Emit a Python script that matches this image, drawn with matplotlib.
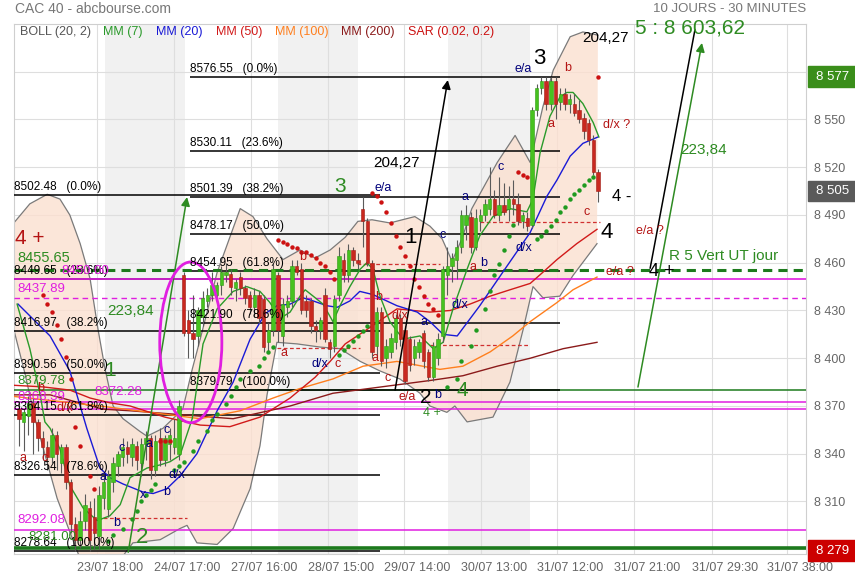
import matplotlib
matplotlib.use("Agg")
import matplotlib.pyplot as plt
import matplotlib.transforms as mtransforms
from matplotlib.patches import Ellipse, Rectangle
import numpy as np

plt.rcParams['font.family'] = ['Liberation Sans', 'DejaVu Sans']

# ---- 30-minute candles (one per bar, bar index = position) ----
c_open = [8368, 8360, 8364, 8372, 8360, 8350, 8344, 8338, 8352, 8334, 8344, 8322, 8296, 8286, 8298, 8306, 8300, 8288, 8312,
          8305, 8322, 8332, 8338, 8344, 8338, 8345, 8334, 8346, 8350, 8330, 8350, 8336, 8346, 8344, 8340,
          8452, 8424, 8416, 8414, 8426, 8436, 8440, 8440, 8446, 8452, 8453, 8444, 8451, 8444, 8440, 8432, 8440, 8437, 8410,
          8418, 8452, 8414, 8432, 8436, 8458, 8456, 8436, 8436, 8420, 8418, 8440, 8410, 8408, 8440, 8462, 8452, 8468, 8462,
          8494, 8486, 8460, 8408, 8429, 8400, 8404, 8410, 8425, 8418, 8412, 8400, 8404, 8416, 8404, 8388, 8400, 8414,
          8452, 8458, 8462, 8470, 8484, 8489, 8470, 8486, 8490, 8494, 8500, 8490, 8496, 8494, 8500, 8497, 8486, 8488,
          8484, 8556, 8570, 8574, 8560, 8574, 8561, 8566, 8560, 8560, 8556, 8551, 8548, 8537, 8517]
c_high = [8373, 8368, 8376, 8375, 8362, 8354, 8348, 8356, 8354, 8346, 8346, 8324, 8300, 8304, 8315, 8310, 8312, 8320, 8326,
          8330, 8338, 8342, 8350, 8348, 8350, 8348, 8350, 8354, 8352, 8352, 8356, 8352, 8356, 8362, 8374,
          8454, 8430, 8440, 8432, 8442, 8444, 8454, 8448, 8458, 8460, 8456, 8450, 8454, 8446, 8442, 8444, 8442, 8440, 8422,
          8460, 8454, 8438, 8440, 8462, 8462, 8460, 8440, 8438, 8424, 8426, 8444, 8412, 8440, 8470, 8466, 8472, 8470, 8466,
          8501, 8488, 8462, 8432, 8432, 8412, 8416, 8428, 8428, 8420, 8414, 8412, 8412, 8418, 8406, 8410, 8416, 8458,
          8470, 8466, 8474, 8493, 8496, 8492, 8494, 8494, 8500, 8520, 8506, 8514, 8510, 8508, 8512, 8504, 8492, 8492,
          8558, 8572, 8577, 8577, 8577, 8577, 8570, 8570, 8566, 8566, 8562, 8554, 8550, 8540, 8519]
c_low = [8345, 8342, 8352, 8340, 8342, 8336, 8330, 8334, 8330, 8328, 8318, 8290, 8279, 8281, 8292, 8279, 8280, 8280, 8305,
         8300, 8316, 8326, 8332, 8334, 8332, 8330, 8326, 8336, 8324, 8326, 8332, 8332, 8336, 8340, 8336,
         8414, 8400, 8400, 8408, 8420, 8432, 8436, 8436, 8440, 8448, 8440, 8436, 8440, 8434, 8428, 8426, 8422, 8404, 8404,
         8414, 8410, 8408, 8426, 8432, 8452, 8428, 8426, 8416, 8410, 8412, 8410, 8400, 8404, 8436, 8448, 8448, 8458, 8456,
         8470, 8458, 8400, 8400, 8395, 8394, 8400, 8406, 8408, 8384, 8392, 8396, 8400, 8394, 8386, 8386, 8396, 8410,
         8440, 8448, 8450, 8466, 8474, 8466, 8468, 8480, 8486, 8490, 8488, 8486, 8490, 8486, 8490, 8484, 8482, 8480,
         8482, 8552, 8566, 8556, 8556, 8550, 8556, 8556, 8554, 8552, 8548, 8538, 8534, 8515, 8498]
c_close = [8362, 8366, 8372, 8360, 8350, 8344, 8338, 8352, 8340, 8344, 8322, 8296, 8286, 8298, 8308, 8286, 8290, 8314, 8322,
           8326, 8334, 8340, 8344, 8340, 8346, 8336, 8346, 8350, 8330, 8348, 8336, 8350, 8352, 8350, 8370,
           8416, 8416, 8412, 8430, 8438, 8440, 8446, 8446, 8454, 8454, 8445, 8448, 8444, 8438, 8432, 8440, 8425, 8407, 8418,
           8456, 8418, 8434, 8436, 8458, 8454, 8430, 8430, 8420, 8418, 8424, 8412, 8406, 8437, 8464, 8452, 8468, 8462, 8460,
           8486, 8460, 8404, 8429, 8398, 8408, 8413, 8425, 8412, 8386, 8396, 8408, 8410, 8398, 8388, 8408, 8412, 8456,
           8458, 8463, 8470, 8490, 8490, 8470, 8488, 8490, 8497, 8500, 8490, 8496, 8492, 8500, 8497, 8486, 8490, 8483,
           8556, 8570, 8574, 8560, 8574, 8560, 8566, 8560, 8563, 8554, 8550, 8543, 8537, 8517, 8505]

# ---- indicators: (bar position, price) ----
bb_up_bar = [-1.1, 2.3, 6.0, 8.7, 10.8, 13.0, 15.1, 16.8, 18.3, 20.0, 22.1, 25.7, 27.2, 30.6, 32.7, 34.8, 36.8, 38.5,
             42.1, 47.0, 49.7, 52.7, 56.1, 59.7, 62.9, 66.1, 69.3, 72.0, 75.0, 78.8, 84.1, 87.3, 89.9, 92.0, 94.1,
             96.2, 99.0, 101.6, 105.4, 108.6, 111.3, 113.5, 117.1, 119.8, 123.0]
bb_up_val = [8485, 8497, 8503, 8500, 8490, 8472, 8450, 8418, 8393, 8370, 8362, 8354, 8351, 8356, 8362, 8368, 8393, 8412,
             8454, 8494, 8489, 8475, 8462, 8468, 8463, 8468, 8476, 8486, 8487, 8485, 8489, 8483, 8475, 8461, 8475,
             8494, 8509, 8523, 8540, 8523, 8558, 8581, 8602, 8605, 8603]
bb_lo_bar = [-1.1, 1.3, 3.4, 8.1, 11.3, 13.0, 19.3, 24.2, 30.0, 34.2, 35.7, 37.8, 42.1, 45.5, 49.1, 51.2, 52.7, 54.8,
             59.1, 64.0, 68.2, 72.5, 76.7, 80.9, 85.2, 87.3, 90.9, 92.6, 95.2, 100.7, 104.3, 107.1, 109.2, 111.3,
             114.9, 117.7, 122.8]
bb_lo_val = [8418, 8390, 8362, 8312, 8287, 8274, 8265, 8284, 8286, 8293, 8295, 8284, 8283, 8293, 8318, 8345, 8377, 8410,
             8409, 8407, 8406, 8398, 8392, 8387, 8378, 8370, 8366, 8370, 8360, 8363, 8385, 8418, 8445, 8438,
             8439, 8452, 8472]

mm7_bar = [-0.4, 2.3, 4.5, 5.5, 6.6, 8.7, 10.8, 13.6, 16.6, 19.3, 21.5, 23.6, 27.2, 30.0, 32.1, 34.2, 36.8, 39.1, 42.1,
           45.5, 48.4, 51.2, 53.3, 55.5, 57.6, 59.7, 60.8, 62.5, 64.6, 66.7, 68.2, 70.3, 72.5, 73.9, 75.2, 76.7, 78.8,
           81.6, 85.2, 88.0, 90.1, 92.2, 95.2, 97.9, 100.7, 104.3, 107.9, 109.2, 110.7, 112.8, 114.9, 116.4, 117.7,
           119.8, 122.0, 123.2]
mm7_val = [8434, 8406, 8377, 8360, 8356, 8343, 8320, 8306, 8298, 8301, 8308, 8325, 8331, 8333, 8335, 8339, 8362, 8409, 8431,
           8442, 8445, 8442, 8435, 8425, 8429, 8439, 8443, 8439, 8434, 8423, 8433, 8445, 8456, 8460, 8456, 8439, 8423,
           8412, 8414, 8406, 8410, 8431, 8456, 8477, 8489, 8494, 8492, 8500, 8529, 8552, 8564, 8567, 8567,
           8560, 8548, 8539]
mm20_bar = [-0.2, 6.6, 10.8, 14.4, 17.2, 19.3, 22.1, 26.3, 28.5, 31.4, 34.2, 37.8, 42.1, 45.5, 49.1, 52.3, 54.8, 57.6,
            60.3, 62.5, 65.4, 67.6, 70.3, 72.4, 75.2, 80.3, 84.6, 87.3, 90.1, 93.1, 97.9, 103.7, 108.6, 112.2, 114.3,
            117.1, 119.8, 123.0]
mm20_val = [8434, 8414, 8392, 8356, 8331, 8325, 8321, 8316, 8315, 8318, 8326, 8340, 8367, 8385, 8412, 8428, 8433, 8434,
            8438, 8436, 8433, 8432, 8436, 8442, 8440, 8433, 8429, 8423, 8415, 8414, 8433, 8458, 8479, 8502, 8512,
            8527, 8535, 8539]
mm50_bar = [-1.1, 5.1, 10.8, 15.1, 19.3, 23.6, 31.0, 38.5, 44.8, 51.2, 57.6, 62.9, 66.1, 69.3, 73.9, 80.3, 87.3, 91.6,
            95.8, 100.1, 104.3, 108.6, 111.3, 114.3, 118.5, 122.8]
mm50_val = [8383, 8382, 8380, 8375, 8372, 8370, 8363, 8358, 8357, 8363, 8375, 8388, 8398, 8409, 8418, 8431, 8429, 8430,
            8434, 8439, 8443, 8447, 8454, 8462, 8472, 8481]
mm100_bar = [-1.1, 17.2, 38.5, 47.0, 54.0, 59.7, 66.7, 73.1, 80.3, 89.4, 94.3, 100.1, 104.9, 108.6, 114.3, 117.7, 122.8]
mm100_val = [8376, 8370, 8362, 8367, 8375, 8381, 8387, 8395, 8398, 8393, 8395, 8404, 8414, 8423, 8435, 8443, 8451]
mm200_bar = [-1.1, 6.6, 17.8, 23.6, 45.5, 57.6, 66.7, 87.3, 94.3, 101.6, 108.6, 115.6, 122.8]
mm200_val = [8377, 8377, 8368, 8367, 8362, 8370, 8378, 8386, 8389, 8395, 8400, 8406, 8410]

sar_red_bar = [5, 6, 7, 8, 9, 10, 11, 12, 13, 15, 16, 30, 31, 32,
               55, 56, 57, 58, 59, 60, 61, 62, 63, 64, 65, 66, 67,
               75, 76, 77, 78, 79, 80, 81, 82, 83, 84, 85, 86, 87, 88, 89, 106, 107, 108, 123]
sar_red_val = [8440, 8434, 8429, 8421, 8412, 8401, 8387, 8357, 8345, 8326, 8318, 8348, 8348, 8348,
               8474, 8473, 8472, 8470, 8469, 8467, 8467, 8465, 8463, 8460, 8458, 8454, 8450,
               8504, 8502, 8498, 8492, 8485, 8477, 8470, 8464, 8458, 8450, 8445, 8439, 8434, 8431, 8427,
               8517, 8515, 8514, 8577]
sar_green_bar = [19, 20, 22, 24, 25, 26, 27, 28, 29,
                 33, 34, 35, 37, 38, 40, 41, 42, 44, 45, 46, 47, 49, 51, 52, 53, 54,
                 68, 69, 70, 71, 72, 73, 74,
                 91, 93, 94, 96, 97, 99, 100, 101, 102, 103, 104, 105,
                 110, 111, 112, 113, 114, 115, 116, 117, 118, 119, 120, 121, 122]
sar_green_val = [8285, 8289, 8293, 8299, 8304, 8310, 8314, 8317, 8321,
                 8330, 8332, 8335, 8342, 8348, 8354, 8361, 8365, 8371, 8376, 8382, 8387, 8392, 8395, 8400, 8404, 8407,
                 8402, 8405, 8408, 8411, 8414, 8417, 8420,
                 8382, 8387, 8398, 8408, 8418, 8431, 8442, 8452, 8459, 8468, 8477, 8484,
                 8475, 8477, 8480, 8483, 8487, 8492, 8495, 8500, 8503, 8506, 8509, 8512, 8514]

# ---- drawn levels ----
fib_pcts = ['0.0%', '23.6%', '38.2%', '50.0%', '61.8%', '78.6%', '100.0%']
fib_left = [8502.48, 8449.65, 8416.97, 8390.56, 8364.15, 8326.54, 8278.64]
fib_mid = [8576.55, 8530.11, 8501.39, 8478.17, 8454.95, 8421.90, 8379.79]
last_prices = [8577, 8505, 8279]

y_ticks = [8280, 8310, 8340, 8370, 8400, 8430, 8460, 8490, 8520, 8550, 8580]
x_grid = [16.6, 32.9, 49.3, 65.6, 81.8, 98.1, 114.3, 130.7, 147.2, 163.2]
x_labels = ['23/07 18:00', '24/07 17:00', '27/07 16:00', '28/07 15:00', '29/07 14:00',
            '30/07 13:00', '31/07 12:00', '31/07 21:00', '31/07 29:30', '31/07 38:00']
day_bands = [(18.3, 35.3), (55.0, 72.0), (91.1, 108.6)]

GREEN = '#2e8b22'
MAG = '#e01ee0'
DRED = '#b41414'
NAVY = '#00007a'

fig = plt.figure(figsize=(8.55, 5.8), dpi=100)
ax = fig.add_axes([14 / 855, 26 / 580, 792 / 855, 530 / 580])
XMIN, XMAX = -1.06, 167.2
ax.set_xlim(XMIN, XMAX)
ax.set_ylim(8277, 8610)

for a, b in day_bands:
    ax.axvspan(a, b, color='#f1f1f1', lw=0, zorder=0)
for t in y_ticks:
    ax.axhline(t, color='#dedede', lw=0.8, zorder=0.5)
for g in x_grid:
    ax.axvline(g, color='#dedede', lw=0.8, zorder=0.5)

# Bollinger envelope
ax.fill(np.r_[bb_up_bar, bb_lo_bar[::-1]], np.r_[bb_up_val, bb_lo_val[::-1]],
        color='#fbe0d0', alpha=0.8, lw=0, zorder=1)
ax.plot(bb_up_bar, bb_up_val, color='#7a7a7a', lw=0.9, zorder=2)
ax.plot(bb_lo_bar, bb_lo_val, color='#7a7a7a', lw=0.9, zorder=2)

# level lines
ax.hlines(fib_left, XMIN, 76.7, color='black', lw=1.1, zorder=3)
ax.hlines(fib_mid, 36.3, 114.9, color='black', lw=1.1, zorder=3)
for v, p in zip(fib_left, fib_pcts):
    ax.annotate(f'{v:.2f}   ({p})', (XMIN + 0.1, v), xytext=(0, 1.5), textcoords='offset points',
                fontsize=8.5, va='bottom', ha='left', zorder=9)
for v, p in zip(fib_mid, fib_pcts):
    ax.annotate(f'{v:.2f}   ({p})', (36.3, v), xytext=(0, 1.5), textcoords='offset points',
                fontsize=8.5, va='bottom', ha='left', zorder=9)

ax.axhline(8455.65, color='#1d7a1d', lw=2.2, ls=(0, (3, 2)), zorder=3)
ax.axhline(8450.00, color=MAG, lw=1.2, zorder=3)
ax.axhline(8437.89, color=MAG, lw=1.0, ls=(0, (4, 3)), zorder=3)
ax.axhline(8379.78, color='#1d7a1d', lw=1.1, zorder=2.9)
ax.axhline(8372.28, color=MAG, lw=1.1, zorder=3)
ax.axhline(8368.39, color=MAG, lw=1.1, zorder=3)
ax.axhline(8292.08, color=MAG, lw=1.1, zorder=3)
ax.axhline(8281.00, color='#1d7a1d', lw=2.6, zorder=3)

for v, a, b in [(8485.5, 98.0, 123.5), (8459.2, 71.8, 89.4), (8406.4, 54.8, 72.4),
                (8408.3, 87.3, 108.6), (8299.5, 16.6, 35.7)]:
    ax.hlines(v, a, b, color='#d03030', lw=0.9, ls=(0, (3, 2)), zorder=3)

# moving averages
ax.plot(mm200_bar, mm200_val, color='#8b1a1a', lw=1.0, zorder=4)
ax.plot(mm100_bar, mm100_val, color='#ff7f1e', lw=1.0, zorder=4)
ax.plot(mm50_bar, mm50_val, color='#d11a1a', lw=1.0, zorder=4)
ax.plot(mm20_bar, mm20_val, color='#1a1ad6', lw=1.0, zorder=4)
ax.plot(mm7_bar, mm7_val, color='#2a9a2a', lw=1.0, zorder=4)

# candles
o, h, l, c = map(np.array, (c_open, c_high, c_low, c_close))
idx = np.arange(len(o))
up = c >= o
ax.vlines(idx, l, h, color='#5a5a5a', lw=0.8, zorder=5)
ax.bar(idx[up], np.maximum((c - o)[up], 0.6), bottom=o[up], width=0.72,
       color='#46c21f', edgecolor='#2f9a14', lw=0.4, zorder=6)
ax.bar(idx[~up], np.maximum((o - c)[~up], 0.6), bottom=c[~up], width=0.72,
       color='#c9281f', edgecolor='#a01c15', lw=0.4, zorder=6)

# parabolic SAR
ax.plot(sar_red_bar, sar_red_val, 'o', color='#cc1111', ms=3.2, mec='none', zorder=6.5)
ax.plot(sar_green_bar, sar_green_val, 'o', color='#1f9a1f', ms=3.2, mec='none', zorder=6.5)

# arrows and trend lines
ax.annotate('', xy=(35.7, 8501.3), xytext=(23.2, 8278.1),
            arrowprops=dict(arrowstyle='-|>', color=GREEN, lw=1.1, mutation_scale=13, shrinkA=0, shrinkB=0), zorder=8)
ax.annotate('', xy=(91.1, 8574.8), xytext=(79.9, 8380.0),
            arrowprops=dict(arrowstyle='-|>', color='black', lw=1.1, mutation_scale=13, shrinkA=0, shrinkB=0), zorder=8)
ax.annotate('', xy=(145.1, 8598.1), xytext=(131.5, 8381.9),
            arrowprops=dict(arrowstyle='-|>', color=GREEN, lw=1.1, mutation_scale=13, shrinkA=0, shrinkB=0), zorder=8)
ax.plot([134.1, 143.6], [8456.7, 8606.3], color='black', lw=1.1, zorder=8)

ax.add_patch(Ellipse((36.5, 8410), width=13.2, height=101, fill=False, edgecolor=MAG, lw=2.0, zorder=8))

# text annotations
notes = [
    (2.3, 8475.5, '4 +', DRED, 15, 'center'),
    (-0.4, 8463.0, '8455.65', GREEN, 10.5, 'left'),
    (-0.4, 8443.5, '8437.89', MAG, 9.5, 'left'),
    (-0.4, 8385.6, '8379.78', GREEN, 9.5, 'left'),
    (-0.4, 8375.6, '8368.39', MAG, 9.5, 'left'),
    (16.1, 8378.7, '8372.28', MAG, 9.5, 'left'),
    (-0.4, 8298.3, '8292.08', MAG, 9.5, 'left'),
    (1.9, 8287.6, '8281.00', GREEN, 9.5, 'left'),
    (9.1, 8454.8, '8450.00', MAG, 9.5, 'left'),
    (23.6, 8429.6, '223,84', GREEN, 11, 'center'),
    (19.3, 8392.5, '1', GREEN, 15, 'center'),
    (26.1, 8287.6, '2', GREEN, 16, 'center'),
    (68.2, 8508.2, '3', GREEN, 15, 'center'),
    (80.3, 8522.7, '204,27', 'black', 11, 'center'),
    (83.1, 8476.1, '1', 'black', 16, 'center'),
    (86.5, 8375.6, '2', 'black', 15, 'center'),
    (94.1, 8380.0, '4', GREEN, 15, 'center'),
    (87.7, 8365.5, '4 +', GREEN, 9, 'center'),
    (110.5, 8588.6, '3', 'black', 16, 'center'),
    (124.7, 8601.2, '204,27', 'black', 11, 'center'),
    (128.1, 8501.9, '4 -', 'black', 12, 'center'),
    (124.9, 8478.7, '4', 'black', 16, 'center'),
    (134.1, 8479.9, 'e/a ?', DRED, 9, 'center'),
    (127.0, 8546.5, 'd/x ?', DRED, 9, 'center'),
    (127.7, 8454.1, 'e/a ?', DRED, 9, 'center'),
    (136.6, 8454.8, '4 +', 'black', 13, 'center'),
    (149.8, 8464.2, 'R 5 Vert UT jour', GREEN, 11, 'center'),
    (145.5, 8530.8, '223,84', GREEN, 11, 'center'),
    (142.6, 8607.5, '5 : 8 603,62', GREEN, 15, 'center'),
    # wave letters
    (4.5, 8381.2, 'b', DRED, 9, 'center'), (0.85, 8337.2, 'a', DRED, 9, 'center'),
    (5.5, 8337.2, 'c', DRED, 9, 'center'), (9.8, 8368.7, 'd/x', DRED, 9, 'center'),
    (17.8, 8325.3, 'a', NAVY, 9, 'center'), (21.9, 8343.5, 'c', NAVY, 9, 'center'),
    (26.3, 8314.0, 'x', NAVY, 9, 'center'), (20.8, 8296.4, 'b', NAVY, 9, 'center'),
    (27.6, 8346.0, 'a', NAVY, 9, 'center'), (31.4, 8354.8, 'c', NAVY, 9, 'center'),
    (31.4, 8315.9, 'b', NAVY, 9, 'center'), (33.6, 8326.5, 'd/x', NAVY, 9, 'center'),
    (56.3, 8403.2, 'a', DRED, 9, 'center'), (60.3, 8463.6, 'b', DRED, 9, 'center'),
    (63.9, 8396.3, 'd/x', NAVY, 9, 'center'), (67.8, 8396.3, 'c', DRED, 9, 'center'),
    (77.3, 8506.9, 'e/a', NAVY, 9, 'center'), (76.5, 8438.4, 'b', DRED, 9, 'center'),
    (80.9, 8426.5, 'd/x', DRED, 9, 'center'), (86.0, 8422.7, 'a', NAVY, 9, 'center'),
    (75.6, 8400.1, 'a', DRED, 9, 'center'), (78.4, 8387.5, 'c', DRED, 9, 'center'),
    (82.4, 8375.6, 'e/a', DRED, 9, 'center'), (89.0, 8376.8, 'b', NAVY, 9, 'center'),
    (89.9, 8477.4, 'c', NAVY, 9, 'center'), (94.8, 8501.3, 'a', NAVY, 9, 'center'),
    (102.4, 8520.1, 'c', NAVY, 9, 'center'), (96.5, 8457.3, 'a', DRED, 9, 'center'),
    (98.8, 8459.8, 'b', NAVY, 9, 'center'), (93.7, 8433.4, 'd/x', NAVY, 9, 'center'),
    (107.3, 8469.2, 'd/x', NAVY, 9, 'center'), (107.1, 8581.7, 'e/a', NAVY, 9, 'center'),
    (116.6, 8582.4, 'b', DRED, 9, 'center'), (113.0, 8547.2, 'a', DRED, 9, 'center'),
    (120.7, 8491.9, 'c', DRED, 9, 'center'),
]
for x, y, s, col, size, ha in notes:
    ax.text(x, y, s, color=col, fontsize=size, ha=ha, va='center', zorder=9, clip_on=False)

# indicator legend along the top
legend_items = [('BOLL (20, 2)', '#555555'), ('MM (7)', '#2a9a2a'), ('MM (20)', '#1a1ad6'),
                ('MM (50)', '#d11a1a'), ('MM (100)', '#ff7f1e'), ('MM (200)', '#8b1a1a'),
                ('SAR (0.02, 0.2)', '#cc1111')]
leg_x = [20, 103, 156, 216, 275, 341, 408]
for (s, col), px in zip(legend_items, leg_x):
    ax.text((px - 14) / 792, 0.984, s, color=col, fontsize=9, ha='left', va='center',
            transform=ax.transAxes, zorder=9)

# axes styling
for sp in ax.spines.values():
    sp.set_color('#cfcfcf')
ax.yaxis.tick_right()
ax.set_yticks(y_ticks)
ax.set_yticklabels([f'{t // 1000} {t % 1000:03d}' for t in y_ticks], color='#666666', fontsize=9)
ax.tick_params(axis='y', length=0, pad=6)
ax.set_xticks(x_grid)
ax.set_xticklabels([])
ax.tick_params(axis='x', length=0)
for g, s in zip(x_grid, x_labels):
    ax.text(g + 2.8, -0.027, s, transform=ax.get_xaxis_transform(), ha='center', va='center',
            color='#666666', fontsize=9)

# last-price boxes on the right axis
trans = mtransforms.blended_transform_factory(ax.transAxes, ax.transData)
for v, col in zip(last_prices, ['#3a8e1a', '#5a5a5a', '#cc0000']):
    ax.add_patch(Rectangle((1.0025, v - 6.5), 0.06, 13, transform=trans, color=col,
                           clip_on=False, zorder=10))
    ax.text(1.012, v, f'{v // 1000} {v % 1000:03d}', transform=trans, color='white', fontsize=9.5,
            ha='left', va='center', zorder=11, clip_on=False)

fig.text(15 / 855, 1 - 9 / 580, 'CAC 40 - abcbourse.com', color='#777777', fontsize=10, ha='left', va='center')
fig.text(806 / 855, 1 - 9 / 580, '10 JOURS - 30 MINUTES', color='#777777', fontsize=9.5, ha='right', va='center')

fig.savefig('out.png', dpi=100)
